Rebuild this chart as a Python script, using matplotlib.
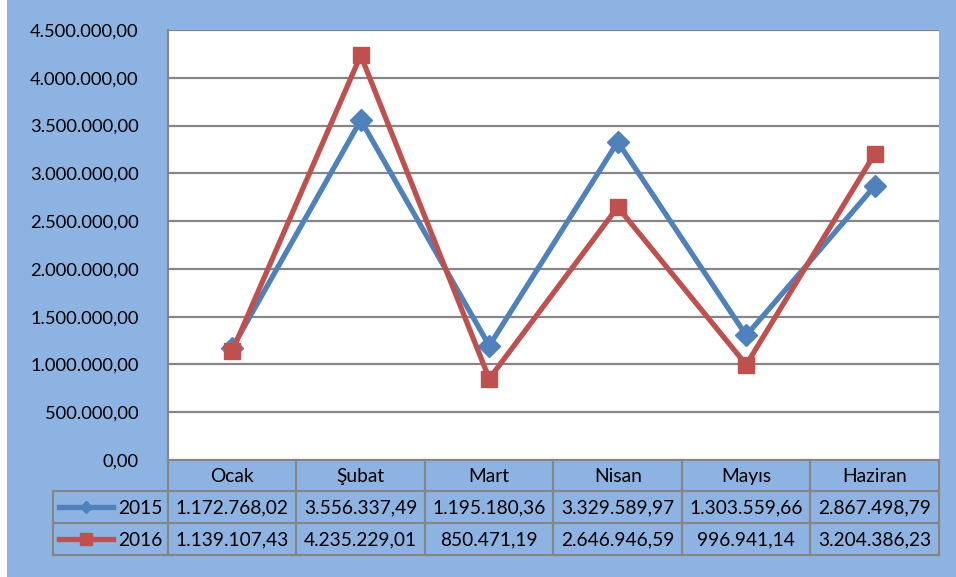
import matplotlib
matplotlib.use('Agg')
import matplotlib.pyplot as plt
from matplotlib.patches import Rectangle
from matplotlib.lines import Line2D

plt.rcParams['font.family'] = ['Lato', 'DejaVu Sans']

months = ['Ocak', 'Şubat', 'Mart', 'Nisan', 'Mayıs', 'Haziran']
series_names = ['2015', '2016']
values_2015 = [1172768.02, 3556337.49, 1195180.36, 3329589.97, 1303559.66, 2867498.79]
values_2016 = [1139107.43, 4235229.01, 850471.19, 2646946.59, 996941.14, 3204386.23]
y_ticks = [0, 500000, 1000000, 1500000, 2000000, 2500000, 3000000, 3500000, 4000000, 4500000]

BG = '#8DB3E2'
BLUE = '#4F81BD'
RED = '#C0504D'
GRID = '#868686'
FS = 13.8
FS_TICK = 13.2

W, H = 956, 577


def tr_fmt(v):
    s = f"{v:,.2f}"
    return s.replace(',', 'X').replace('.', ',').replace('X', '.')


fig = plt.figure(figsize=(W / 100, H / 100), dpi=100, facecolor='white')
fig.add_artist(Rectangle((7 / W, 0), 1 - 7 / W, 1, transform=fig.transFigure,
                         facecolor=BG, edgecolor='none', zorder=0))

# plot area in pixels
px_l, px_r, px_t, px_b = 168, 939, 30, 460
ax = fig.add_axes([px_l / W, 1 - px_b / H, (px_r - px_l) / W, (px_b - px_t) / H])
ax.set_facecolor('white')
ax.set_xlim(-0.5, len(months) - 0.5)
ax.set_ylim(0, 4500000)
ax.set_yticks(y_ticks)
ax.set_yticklabels([tr_fmt(t) for t in y_ticks], fontsize=FS_TICK)
ax.tick_params(axis='y', length=0, pad=21)
ax.set_xticks([])
for t in y_ticks[1:]:
    ax.axhline(t, color=GRID, lw=1.6, zorder=1)
for side in ['top', 'right', 'bottom']:
    ax.spines[side].set_visible(False)
ax.spines['left'].set_color(GRID)
ax.spines['left'].set_linewidth(1.5)

x = list(range(len(months)))
ax.plot(x, values_2015, color=BLUE, lw=3.8, marker='D', markersize=11,
        zorder=3, clip_on=False)
ax.plot(x, values_2016, color=RED, lw=3.8, marker='s', markersize=11.5,
        zorder=3, clip_on=False)

# data table below the plot, drawn in pixel space
tab = fig.add_axes([0, 0, 1, 1], facecolor='none')
tab.set_xlim(0, W)
tab.set_ylim(H, 0)
tab.axis('off')

col_edges = [px_l + i * (px_r - px_l) / len(months) for i in range(len(months) + 1)]
row_edges = [460, 491, 523, 555]
leg_l = 53
lc = dict(color=GRID, lw=1.6)

# header row (months)
tab.plot([px_l, px_r], [row_edges[0]] * 2, **lc)
for xe in col_edges:
    tab.plot([xe, xe], [row_edges[0], row_edges[-1]], **lc)
tab.plot([leg_l, leg_l], [row_edges[1], row_edges[-1]], **lc)
for ye in row_edges[1:]:
    tab.plot([leg_l, px_r], [ye, ye], **lc)

for i, m in enumerate(months):
    cx = (col_edges[i] + col_edges[i + 1]) / 2
    tab.text(cx, (row_edges[0] + row_edges[1]) / 2 + 1, m, fontsize=FS,
             ha='center', va='center')

rows = [values_2015, values_2016]
styles = [(BLUE, 'D', 6), (RED, 's', 8)]
for r, (name, vals, (c, mk, ms)) in enumerate(zip(series_names, rows, styles)):
    cy = (row_edges[r + 1] + row_edges[r + 2]) / 2 + 1
    tab.add_line(Line2D([59, 113], [cy - 1, cy - 1], color=c, lw=3.8))
    tab.add_line(Line2D([86], [cy - 1], color=c, marker=mk, markersize=ms))
    tab.text(163, cy, name, fontsize=FS, ha='right', va='center')
    for i, v in enumerate(vals):
        cx = (col_edges[i] + col_edges[i + 1]) / 2
        tab.text(cx, cy, tr_fmt(v), fontsize=FS, ha='center', va='center')

fig.savefig('out.png', dpi=100, facecolor='white')
